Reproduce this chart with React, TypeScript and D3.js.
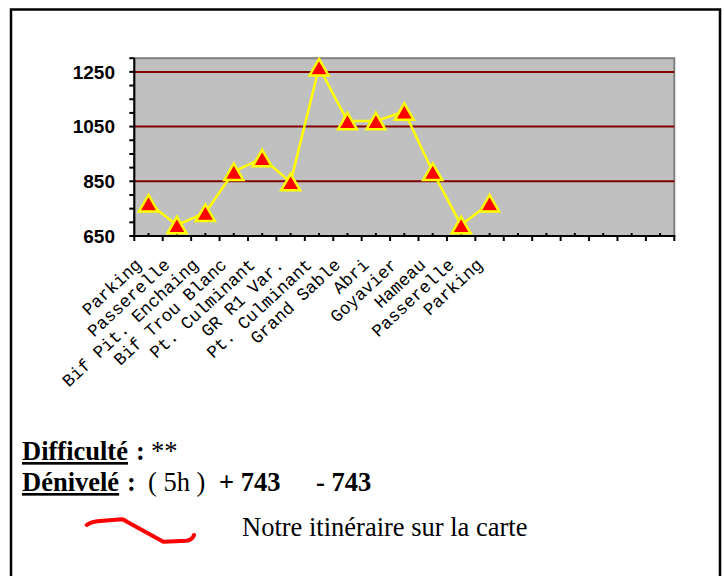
import React from "react";
import * as d3 from "d3";

const categories: string[] = [
  "Parking",
  "Passerelle",
  "Bif Pit. Enchaing",
  "Bif Trou Blanc",
  "Pt. Culminant",
  "GR R1 Var.",
  "Pt. Culminant",
  "Grand Sable",
  "Abri",
  "Goyavier",
  "Hameau",
  "Passerelle",
  "Parking",
];
const altitudes: number[] = [770, 690, 735, 885, 935, 847, 1267, 1070, 1070, 1105, 885, 690, 770];
const slotCount = 19;
const yLabelTicks: number[] = [650, 850, 1050, 1250];
const gridValues: number[] = [850, 1050, 1250];

const W = 724;
const H = 576;
const plotLeft = 134.3;
const plotRight = 674.3;
const plotTop = 58.2;
const plotBottom = 236;

export default function App() {
  const slots = d3.range(slotCount);
  const x = d3.scaleBand<number>().domain(slots).range([plotLeft, plotRight]).padding(0);
  const y = d3.scaleLinear().domain([650, 1300]).range([plotBottom, plotTop]);
  const cx = (i: number) => (x(i) as number) + x.bandwidth() / 2;

  const line = d3
    .line<number>()
    .x((_, i) => cx(i))
    .y((d) => y(d));

  const minorTicks = d3.range(650, 1301, 50);
  const boundaries = d3.range(slotCount + 1).map((i) => plotLeft + i * x.bandwidth());

  const tw = 19;
  const th = 16.5;
  const tri = `M0,${-th / 2}L${tw / 2},${th / 2}L${-tw / 2},${th / 2}Z`;

  const serif = "'Times New Roman', 'Liberation Serif', serif";

  return (
    <svg
      width={W}
      height={H}
      style={{ position: "absolute", left: 0, top: 0, background: "#fff" }}
    >
      {/* outer frame */}
      <rect x={11} y={9.5} width={709} height={580} fill="none" stroke="#000" strokeWidth={2.5} />

      {/* plot area */}
      <rect
        x={plotLeft}
        y={plotTop}
        width={plotRight - plotLeft}
        height={plotBottom - plotTop}
        fill="#C0C0C0"
        stroke="#808080"
        strokeWidth={2}
      />
      {gridValues.map((v) => (
        <line key={v} x1={plotLeft} x2={plotRight} y1={y(v)} y2={y(v)} stroke="#800000" strokeWidth={2} />
      ))}

      {/* y axis */}
      <line x1={plotLeft} x2={plotLeft} y1={plotTop} y2={plotBottom} stroke="#000" strokeWidth={2} />
      {minorTicks.map((v) => (
        <line key={v} x1={plotLeft - 5} x2={plotLeft} y1={y(v)} y2={y(v)} stroke="#000" strokeWidth={2} />
      ))}
      {yLabelTicks.map((v) => (
        <text
          key={v}
          x={115}
          y={y(v)}
          dy="0.36em"
          textAnchor="end"
          fontFamily="Arial, 'Liberation Sans', sans-serif"
          fontWeight="bold"
          fontSize={19}
          fill="#000"
        >
          {v}
        </text>
      ))}

      {/* x axis */}
      <line x1={plotLeft - 1} x2={plotRight + 1} y1={plotBottom} y2={plotBottom} stroke="#000" strokeWidth={2} />
      {boundaries.map((bx, i) => (
        <line key={"b" + i} x1={bx} x2={bx} y1={plotBottom} y2={plotBottom + 5} stroke="#000" strokeWidth={2} />
      ))}
      {slots.map((i) => (
        <line key={"c" + i} x1={cx(i)} x2={cx(i)} y1={plotBottom - 3} y2={plotBottom} stroke="#000" strokeWidth={2} />
      ))}
      {categories.map((c, i) => (
        <text
          key={"l" + i}
          transform={`translate(${cx(i) - 6},${plotBottom + 30}) rotate(-43)`}
          textAnchor="end"
          fontFamily="'Courier New', 'Liberation Mono', monospace"
          fontSize={17.5}
          fill="#000"
        >
          {c}
        </text>
      ))}

      {/* series */}
      <path d={line(altitudes) || ""} fill="none" stroke="#FFFF00" strokeWidth={2.5} strokeLinejoin="round" />
      {altitudes.map((v, i) => (
        <path
          key={"m" + i}
          d={tri}
          transform={`translate(${cx(i)},${y(v)})`}
          fill="#FF0000"
          stroke="#FFFF00"
          strokeWidth={2.5}
        />
      ))}

      {/* text block */}
      <text y={460} fontFamily={serif} fontSize={26.5} fill="#000">
        <tspan x={22} fontWeight="bold" style={{ textDecoration: "underline" }}>
          Difficulté
        </tspan>
        <tspan x={136} fontWeight="bold">:</tspan>
        <tspan x={151}>**</tspan>
      </text>
      <text y={491} fontFamily={serif} fontSize={26.5} fill="#000">
        <tspan x={22} fontWeight="bold" style={{ textDecoration: "underline" }}>
          Dénivelé
        </tspan>
        <tspan x={127} fontWeight="bold">:</tspan>
        <tspan x={148}>( 5h )</tspan>
        <tspan x={219} fontWeight="bold">+ 743</tspan>
        <tspan x={316} fontWeight="bold">- 743</tspan>
      </text>
      <path
        d="M86.7,525 C90,522 98,521 103,520.7 L121.7,519.3 C124,519.5 125,520.5 127,521.7 L143.3,530.7 L163.3,541.7 L186.7,540.7 C191,540 193,538 194,535"
        fill="none"
        stroke="#FF0000"
        strokeWidth={4}
        strokeLinecap="round"
        strokeLinejoin="round"
      />
      <text x={242} y={536} fontFamily={serif} fontSize={26.5} fill="#000">
        Notre itinéraire sur la carte
      </text>
    </svg>
  );
}
